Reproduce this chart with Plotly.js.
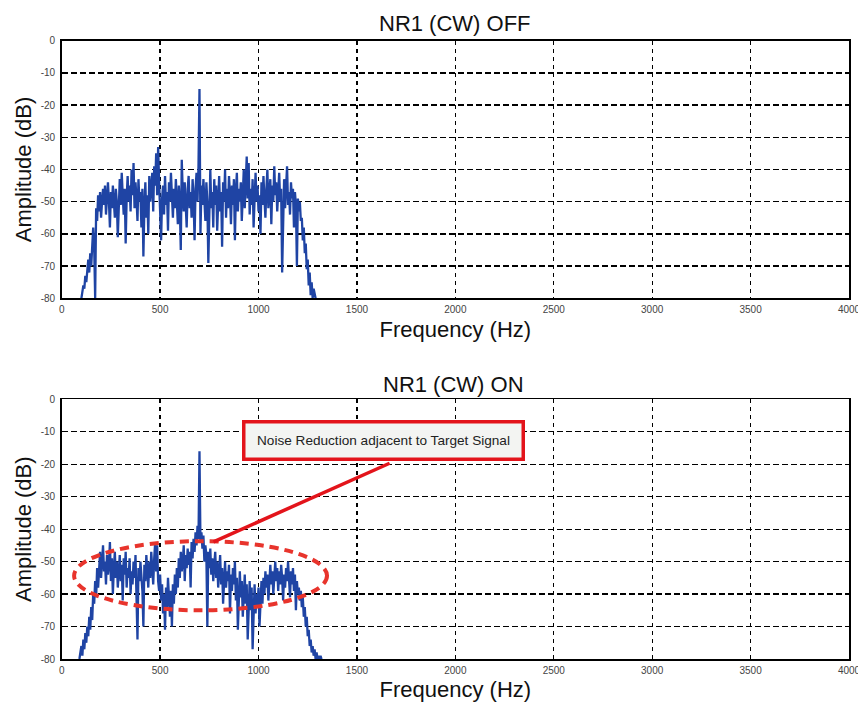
<!DOCTYPE html>
<html>
<head>
<meta charset="utf-8">
<script src="https://cdn.plot.ly/plotly-3.0.1.min.js"></script>
<style>html,body{margin:0;padding:0;background:#fff;}#chart{width:858px;height:704px;}</style>
</head>
<body>
<div id="chart"></div>
<script>
// ---- data ----
const titles = ["NR1 (CW) OFF", "NR1 (CW) ON"];
const xTitle = "Frequency (Hz)";
const yTitle = "Amplitude (dB)";
const xTickVals = [0, 500, 1000, 1500, 2000, 2500, 3000, 3500, 4000];
const yTickVals = [0, -10, -20, -30, -40, -50, -60, -70, -80];
const binHz = 5;
const offStartHz = 100;
const onStartHz = 90;
const noteText = "Noise Reduction adjacent to Target Signal";

// NR1 OFF spectrum, dB, one value per 5 Hz bin starting at 100 Hz
const offDb = [
 -80,-78,-76,-77,-73,-75,-70,-68,-72,-66,-70,-62,-58,-64,-80,-52,-56,-48,-53,-47,
 -55,-50,-46,-51,-45,-54,-48,-44,-50,-58,-47,-52,-45,-49,-55,-46,-50,-61,-47,-43,
 -51,-41,-48,-54,-46,-63,-49,-42,-50,-45,-53,-40,-48,-38,-52,-44,-49,-56,-43,-50,
 -47,-58,-46,-67,-52,-44,-55,-48,-60,-42,-50,-46,-41,-53,-39,-45,-35,-48,-33,-44,
 -57,-62,-49,-45,-54,-42,-51,-47,-59,-44,-50,-41,-48,-55,-46,-52,-43,-49,-57,-45,
 -51,-65,-37,-47,-53,-44,-50,-58,-46,-42,-52,-47,-55,-43,-49,-62,-46,-41,-50,-39,
 -15,-60,-45,-51,-43,-48,-56,-44,-50,-69,-46,-40,-52,-47,-58,-43,-51,-45,-59,-48,
 -42,-53,-47,-64,-44,-50,-40,-55,-46,-52,-42,-48,-57,-45,-51,-43,-62,-47,-41,-53,
 -46,-50,-44,-56,-48,-40,-52,-45,-36,-49,-38,-54,-46,-51,-43,-58,-47,-41,-50,-45,
 -53,-48,-60,-44,-51,-42,-49,-55,-46,-40,-52,-47,-43,-57,-45,-50,-39,-48,-44,-53,
 -47,-41,-50,-46,-72,-49,-43,-52,-45,-39,-51,-47,-54,-44,-49,-46,-58,-47,-51,-70,
 -49,-53,-50,-56,-55,-62,-58,-66,-63,-71,-68,-76,-72,-79,-75,-80,-77,-79,-80
];

// NR1 ON spectrum, dB, one value per 5 Hz bin starting at 90 Hz
const onDb = [
 -80,-78,-76,-79,-74,-77,-72,-75,-70,-73,-67,-71,-64,-68,-60,-63,-56,-61,-52,-58,
 -50,-47,-55,-49,-45,-53,-50,-57,-48,-54,-51,-44,-56,-49,-60,-52,-47,-55,-50,-58,
 -53,-48,-56,-51,-62,-49,-54,-47,-58,-52,-55,-49,-60,-53,-57,-50,-55,-48,-61,-74,
 -52,-56,-50,-54,-59,-70,-51,-56,-48,-53,-58,-50,-55,-47,-52,-57,-49,-44,-53,-45,
 -56,-59,-54,-62,-57,-66,-60,-71,-58,-64,-55,-61,-67,-59,-70,-57,-63,-54,-60,-52,
 -58,-49,-55,-47,-53,-50,-45,-56,-48,-52,-46,-51,-47,-58,-44,-49,-43,-47,-41,-45,
 -39,-43,-16,-44,-41,-46,-42,-50,-45,-48,-70,-47,-52,-46,-54,-49,-56,-51,-47,-55,
 -50,-58,-53,-48,-57,-52,-63,-55,-50,-58,-53,-56,-51,-66,-54,-59,-52,-57,-50,-62,
 -55,-71,-58,-53,-61,-56,-67,-59,-54,-63,-57,-74,-60,-56,-65,-58,-77,-62,-57,-66,
 -60,-64,-58,-70,-61,-56,-63,-55,-60,-53,-58,-54,-62,-55,-51,-57,-53,-60,-54,-50,
 -56,-52,-59,-53,-57,-51,-55,-62,-54,-58,-52,-56,-50,-55,-61,-53,-57,-52,-59,-54,
 -65,-56,-60,-58,-62,-59,-64,-61,-67,-64,-70,-67,-73,-71,-76,-74,-78,-76,-79,-77,
 -80,-78,-80,-79,-80,-79,-80
];

// ---- chart ----
const W = 858, H = 704;
const lineColor = '#1f44a4';
const FONT = 'Liberation Sans, Arial, Helvetica, sans-serif';

function xAxis(anchor, dom) {
  return {
    anchor: anchor, domain: dom, range: [0, 4000],
    tickmode: 'array', tickvals: xTickVals, ticktext: xTickVals.map(String),
    showgrid: true, gridcolor: '#000', gridwidth: 1.3, griddash: '4px,4px',
    showline: true, linecolor: '#000', linewidth: 1.6, mirror: true,
    zeroline: false, ticks: '', ticklabelstandoff: 1, ticklabeloverflow: 'allow',
    tickfont: {family: FONT, size: 10, color: '#444'},
    title: {text: xTitle, font: {family: FONT, size: 22, color: '#111'}, standoff: 7},
    fixedrange: true
  };
}
function yAxis(anchor, dom) {
  return {
    anchor: anchor, domain: dom, range: [-80, 0],
    tickmode: 'array', tickvals: yTickVals, ticktext: yTickVals.map(String),
    showgrid: true, gridcolor: '#000', gridwidth: 1.3, griddash: '6px,3px',
    showline: true, linecolor: '#000', linewidth: 1.6, mirror: true,
    zeroline: false, ticks: '', ticklabelstandoff: 3,
    tickfont: {family: FONT, size: 10, color: '#444'},
    title: {text: yTitle, font: {family: FONT, size: 22, color: '#111'}, standoff: 3},
    fixedrange: true
  };
}

const xDom = [61.7 / W, 849 / W];
const yDomTop = [1 - 298.3 / H, 1 - 40.7 / H];
const yDomBot = [1 - 659 / H, 1 - 399.3 / H];

const traces = [
  {type: 'scatter', mode: 'lines', x0: offStartHz, dx: binHz, y: offDb,
   xaxis: 'x', yaxis: 'y', line: {color: lineColor, width: 2.3}, hoverinfo: 'skip'},
  {type: 'scatter', mode: 'lines', x0: onStartHz, dx: binHz, y: onDb,
   xaxis: 'x2', yaxis: 'y2', line: {color: lineColor, width: 2.3}, hoverinfo: 'skip'}
];

const layout = {
  width: W, height: H,
  margin: {l: 0, r: 0, t: 0, b: 0},
  paper_bgcolor: '#fff', plot_bgcolor: '#fff',
  showlegend: false,
  font: {family: FONT},
  xaxis: xAxis('y', xDom),
  yaxis: yAxis('x', yDomTop),
  xaxis2: xAxis('y2', xDom),
  yaxis2: yAxis('x2', yDomBot),
  annotations: [
    {text: titles[0], xref: 'paper', yref: 'paper', x: 455 / W, y: 1 - 24 / H,
     xanchor: 'center', yanchor: 'middle', showarrow: false,
     font: {family: FONT, size: 22, color: '#111'}},
    {text: titles[1], xref: 'paper', yref: 'paper', x: 453 / W, y: 1 - 384 / H,
     xanchor: 'center', yanchor: 'middle', showarrow: false,
     font: {family: FONT, size: 22, color: '#111'}},
    {text: noteText, xref: 'paper', yref: 'paper', x: 383.3 / W, y: 1 - 440.5 / H,
     xanchor: 'center', yanchor: 'middle', showarrow: false,
     width: 272, height: 30, borderpad: 2, borderwidth: 3.5,
     bordercolor: '#e3141b', bgcolor: '#f3f4f2',
     font: {family: FONT, size: 13.6, color: '#222'}}
  ],
  shapes: [
    {type: 'circle', xref: 'x2', yref: 'y2', x0: 63, x1: 1348, y0: -65, y1: -43.7,
     line: {color: '#e8342c', width: 4, dash: '9px,6px'}},
    {type: 'line', xref: 'x2', yref: 'y2', x0: 1666, y0: -19.7, x1: 771, y1: -43.9,
     line: {color: '#e3141b', width: 3.5}}
  ]
};

Plotly.newPlot('chart', traces, layout, {staticPlot: true, displayModeBar: false});
</script>
</body>
</html>
